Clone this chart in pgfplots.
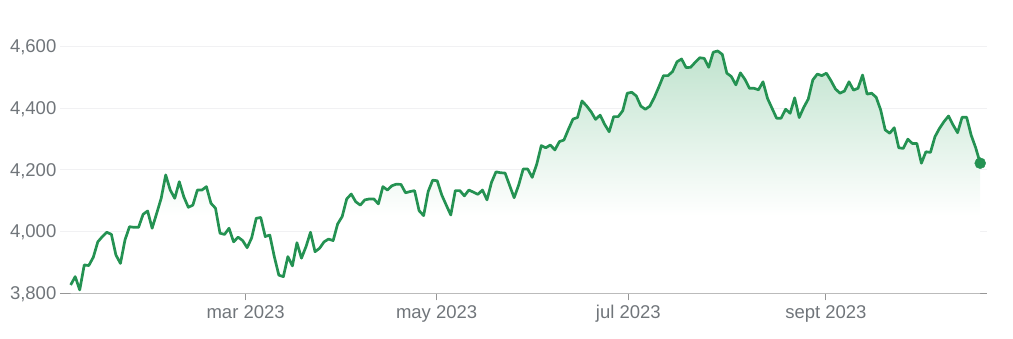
\documentclass[border=0pt]{standalone}
\usepackage{fontspec}
\setmainfont{Liberation Sans}
\usepackage{pgfplots}
\usepackage{pgfplotstable}
\pgfplotsset{compat=1.18}
\definecolor{lineg}{RGB}{36,146,82}
\definecolor{fillg}{RGB}{192,227,206}
\definecolor{labgray}{RGB}{112,117,122}
\definecolor{axgray}{RGB}{150,150,150}
\definecolor{gridc}{RGB}{241,241,243}
\pgfdeclareverticalshading{gfill}{100bp}{color(0bp)=(white); color(41bp)=(white); color(75bp)=(fillg); color(100bp)=(fillg)}
\pgfplotstableread{
x y
0 3827
1 3854
2 3811
3 3892
4 3890
5 3917
6 3967
7 3984
8 3998
9 3991
10 3924
11 3897
12 3973
13 4016
14 4014
15 4014
16 4056
17 4067
18 4011
19 4059
20 4108
21 4184
22 4135
23 4108
24 4162
25 4113
26 4079
27 4086
28 4135
29 4135
30 4146
31 4092
32 4076
33 3995
34 3991
35 4011
36 3967
37 3982
38 3971
39 3948
40 3980
41 4043
42 4046
43 3984
44 3989
45 3919
46 3859
47 3854
48 3919
49 3889
50 3964
51 3914
52 3951
53 3998
54 3935
55 3946
56 3967
57 3976
58 3971
59 4025
60 4049
61 4106
62 4122
63 4097
64 4086
65 4103
66 4106
67 4106
68 4090
69 4146
70 4135
71 4149
72 4154
73 4153
74 4126
75 4130
76 4133
77 4068
78 4052
79 4130
80 4167
81 4165
82 4119
83 4086
84 4054
85 4133
86 4133
87 4116
88 4135
89 4128
90 4121
91 4135
92 4103
93 4160
94 4194
95 4191
96 4190
97 4150
98 4110
99 4151
100 4203
101 4203
102 4176
103 4219
104 4279
105 4272
106 4281
107 4265
108 4292
109 4297
110 4332
111 4365
112 4370
113 4424
114 4408
115 4389
116 4364
117 4378
118 4348
119 4324
120 4373
121 4373
122 4392
123 4449
124 4452
125 4440
126 4407
127 4397
128 4407
129 4436
130 4470
131 4506
132 4506
133 4519
134 4551
135 4560
136 4532
137 4533
138 4549
139 4564
140 4562
141 4533
142 4582
143 4586
144 4575
145 4514
146 4503
147 4476
148 4515
149 4494
150 4465
151 4465
152 4460
153 4486
154 4432
155 4400
156 4368
157 4368
158 4397
159 4384
160 4434
161 4370
162 4403
163 4430
164 4492
165 4511
166 4506
167 4514
168 4490
169 4463
170 4449
171 4456
172 4486
173 4459
174 4465
175 4508
176 4446
177 4449
178 4436
179 4395
180 4330
181 4319
182 4337
183 4272
184 4270
185 4300
186 4286
187 4286
188 4222
189 4259
190 4257
191 4308
192 4335
193 4357
194 4375
195 4346
196 4321
197 4371
198 4371
199 4313
200 4272
201 4222
}\spx
\begin{document}
\begin{tikzpicture}
\path[use as bounding box] (-60pt,-44.7pt) rectangle (953pt,293.3pt);
\begin{axis}[
  at={(0,0)}, anchor=south west,
  scale only axis,
  width=927pt, height=277.5pt,
  xmin=-2.36, xmax=202.5,
  ymin=3800, ymax=4700,
  axis x line=bottom, axis y line=left,
  axis line style={-},
  x axis line style={draw=axgray, line width=1.4pt},
  y axis line style={draw=none},
  xtick={38.67,80.88,123.23,166.9},
  xticklabels={mar 2023,may 2023,jul 2023,sept 2023},
  ytick={3800,4000,4200,4400,4600},
  xtick align=outside,
  major tick length=7pt,
  xtick style={draw=axgray, line width=1pt},
  ytick style={draw=none},
  ymajorgrids,
  grid style={draw=gridc, line width=1pt},
  scaled y ticks=false,
  /pgf/number format/assume math mode=true,
  /pgf/number format/1000 sep={,},
  tick label style={font=\fontsize{18.5}{22}\selectfont, text=labgray},
  yticklabel style={anchor=east, inner sep=0pt, xshift=0pt, yshift=-1pt},
  xticklabel style={anchor=base, inner sep=0pt, yshift=-18.5pt},
  clip=false,
]
\addplot[draw=none, shade, shading=gfill] table[x=x,y=y] {\spx} -- (axis cs:201,3800) -- (axis cs:0,3800) -- cycle;
\addplot[lineg, line width=2.7pt, line join=round, mark=none] table[x=x,y=y] {\spx};
\addplot[only marks, mark=*, mark size=5.5pt, lineg, mark options={fill=lineg, draw=lineg}] coordinates {(201,4222)};
\end{axis}
\end{tikzpicture}
\end{document}
